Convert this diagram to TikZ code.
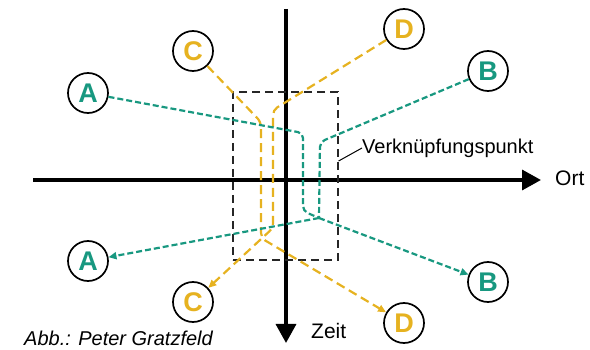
\documentclass[tikz,border=0pt]{standalone}
\usepackage{fontspec}
\setmainfont{Liberation Sans}
\usetikzlibrary{arrows.meta}

\definecolor{zugteal}{RGB}{24,152,128}
\definecolor{zuggold}{RGB}{230,178,32}

\tikzset{
	station/.style={shape=circle,draw=black,line width=1.7pt,minimum size=40pt,inner sep=0pt,font=\fontsize{27}{27}\selectfont\bfseries},
	axis/.style={line width=3.5pt,-{Triangle[length=19pt,width=20pt]}},
	tealline/.style={zugteal,line width=2.2pt,dash pattern=on 6pt off 3pt,rounded corners=5pt},
	goldline/.style={zuggold,line width=2.2pt,dash pattern=on 9pt off 5pt,rounded corners=5pt},
	tip/.style={-{Triangle[length=8pt,width=7pt]}},
	lbl/.style={font=\fontsize{20}{24}\selectfont}
}

\begin{document}
\begin{tikzpicture}[x=1pt,y=-1pt]
	\useasboundingbox (0,0) rectangle (590,350);

	% axes
	\coordinate (x0) at (33,180);
	\coordinate (x1) at (541,180);
	\coordinate (t0) at (286,9);
	\coordinate (t1) at (286,343);
	\draw[axis] (x0) -- (x1);
	\draw[axis] (t0) -- (t1);
	\node[lbl,font=\fontsize{21}{24}\selectfont,anchor=west,inner sep=0pt] (ort) at (555,178) {Ort};
	\node[lbl,font=\fontsize{21}{24}\selectfont,anchor=west,inner sep=0pt] (zeit) at (311,331) {Zeit};

	% box
	\node[draw=black!85,line width=1.2pt,dash pattern=on 8pt off 5pt,minimum width=105pt,minimum height=168pt,inner sep=0pt] (box) at (285.5,176) {};
	\node[lbl,anchor=west,inner sep=0pt] (vp) at (362,148) {Verknüpfungspunkt};
	\draw[line width=1pt] (vp.west) -- (box.east |- 0,161);

	% stations
	\node[station,text=zugteal] (a) at (88,93)  {A};
	\node[station,text=zuggold] (c) at (193,51) {C};
	\node[station,text=zuggold] (d) at (404,29) {D};
	\node[station,text=zugteal] (b) at (488,71) {B};
	\node[station,text=zugteal] (a2) at (88,261)  {A};
	\node[station,text=zuggold] (c2) at (193,302) {C};
	\node[station,text=zuggold] (d2) at (404,323) {D};
	\node[station,text=zugteal] (b2) at (488,282) {B};

	% paths
	\coordinate (jt) at (319,218);
	\draw[goldline,tip] (c) -- (261,122) -- (261,238) -- (d2);
	\draw[goldline,tip] (d) -- (273,110) -- (273,228) -- (c2);
	\draw[tealline] (a) -- (303,133) -- (303,211) -- (jt);
	\draw[tealline] (b) -- (320,142) -- (jt);
	\draw[tealline,tip] (jt) -- (a2);
	\draw[tealline,tip] (jt) -- (b2);

	\node[lbl,anchor=west,inner sep=0pt,font=\fontsize{20}{24}\selectfont\itshape] (abb) at (24,338) {Abb.: Peter Gratzfeld};

\end{tikzpicture}
\end{document}
